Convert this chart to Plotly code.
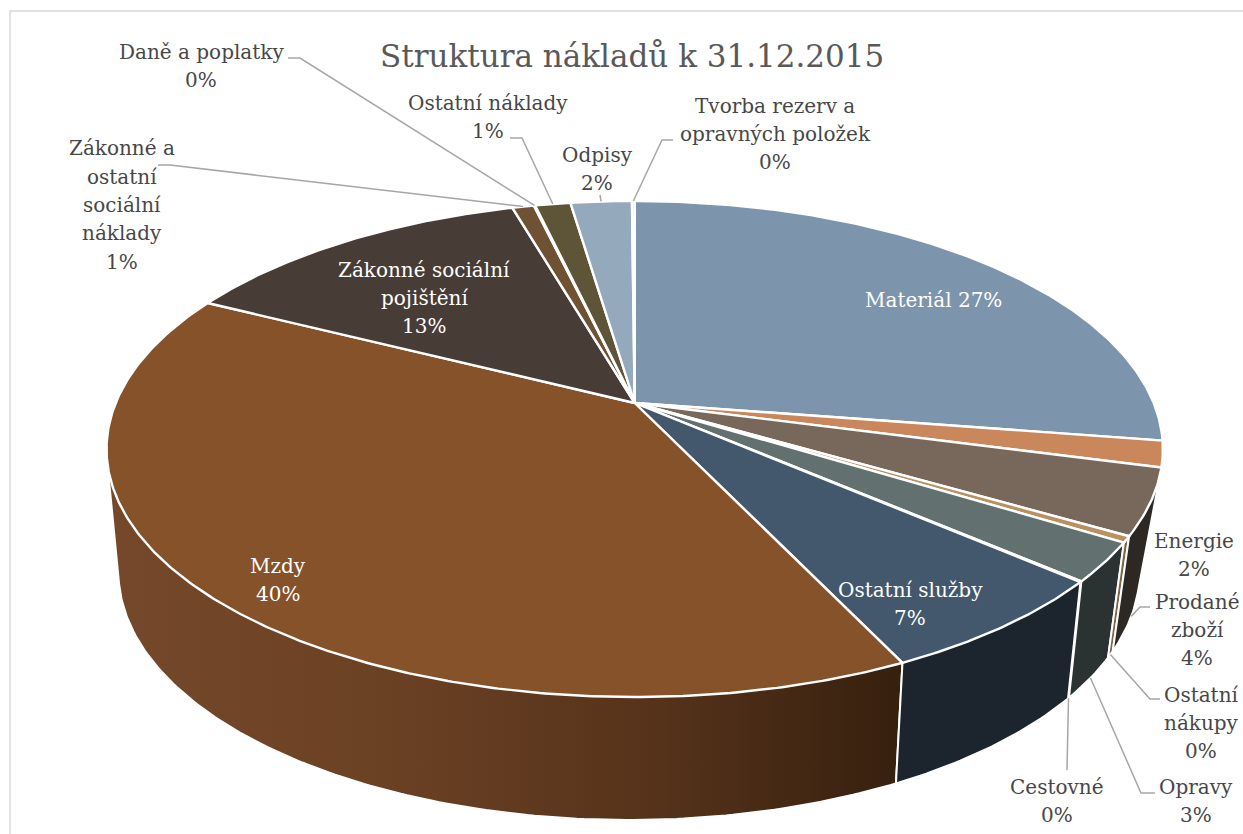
import math
import numpy as np
import plotly.graph_objects as go

# ---- data ----
categories = ["Materiál", "Energie", "Prodané zboží", "Ostatní nákupy", "Opravy", "Cestovné",
              "Ostatní služby", "Mzdy", "Zákonné sociální pojištění",
              "Zákonné a ostatní sociální náklady", "Daně a poplatky", "Ostatní náklady",
              "Odpisy", "Tvorba rezerv a opravných položek"]
values = [27.55, 1.7, 4.3, 0.4, 2.55, 0.05, 6.56, 39.7, 13.1, 0.8, 0.05, 1.3, 2.25, 0.1]
title_text = "Struktura nákladů k 31.12.2015"

# ---- styles ----
top_colors = ["#7c94ac", "#c9875b", "#78685c", "#b9905f", "#62706f", "#a5a5a5", "#43586c",
              "#85522a", "#483c36", "#6f5233", "#7a6a50", "#5e5538", "#95a9bc", "#c7d0da"]
wall_colors = {2: "#2e2824", 3: "#7f6443", 4: "#2a3331", 6: "#1c252d"}
MZDY_WALL = [[0, "#75482a"], [0.35, "#6b4124"], [0.7, "#55321a"], [1, "#36200e"]]

wrapped = ["Materiál", "Energie", "Prodané<br>zboží", "Ostatní<br>nákupy", "Opravy", "Cestovné",
           "Ostatní služby", "Mzdy", "Zákonné sociální<br>pojištění",
           "Zákonné a<br>ostatní<br>sociální<br>náklady", "Daně a poplatky", "Ostatní náklady",
           "Odpisy", "Tvorba rezerv a<br>opravných položek"]
sep = {0: " "}
label_pos = [(933, 300), (1194, 555), (1197, 630), (1201, 723), (1196, 801), (1057, 801), (910, 604),
             (278, 580), (424, 298), (122, 205), (201, 66), (488, 117), (597, 169), (775, 134)]
inside = {0, 6, 7, 8}
LINE_STEP = 28.4
leaders = {2: ("low", (1140, 607), (1150, 607)), 3: ("low", (1150, 699), (1160, 699)),
           4: ("low", (1141, 793), (1155, 793)), 5: ("low", (1067, 770), (1067, 770)),
           9: ("top", (170, 165), (158, 165)), 10: ("top", (300, 58), (288, 58)),
           11: ("top", (522, 138), (510, 138)), 12: ("top", (600, 195), (600, 195)),
           13: ("top", (662, 140), (673, 140))}

# ---- projection of the disc ----
def top_pt(t):
    k, c, d, ax, ay = 0.1855, 239.5, 519.0, 634.7, 403
    u, v = np.sin(t), np.cos(t)
    return ax + d * u / (1 + k * v), ay - c * v / (1 + k * v)

def low_pt(t):
    k, c, d, ax, ay = 0.22, 236, 498.0, 629, 517.4
    u, v = np.sin(t), np.cos(t)
    return ax + d * u / (1 + k * v), ay - c * v / (1 + k * v)

def hull(points):
    pts = sorted(set(points))
    def half(seq):
        out = []
        for p in seq:
            while len(out) > 1 and (out[-1][0]-out[-2][0])*(p[1]-out[-2][1]) - (out[-1][1]-out[-2][1])*(p[0]-out[-2][0]) <= 0:
                out.pop()
            out.append(p)
        return out[:-1]
    return half(pts) + half(pts[::-1])

total = sum(values)
edges = np.concatenate([[0], np.cumsum(values)]) / total * 2 * math.pi

fig = go.Figure()

# side walls (front-facing slices only)
for i in [7, 6, 4, 3, 2]:
    t = np.linspace(edges[i], edges[i + 1], max(4, int((edges[i + 1] - edges[i]) * 90)))
    tx, ty = top_pt(t)
    lx, ly = low_pt(t)
    h = hull(list(zip(tx.tolist(), ty.tolist())) + list(zip(lx.tolist(), ly.tolist())))
    xs = [p[0] for p in h] + [h[0][0]]
    ys = [p[1] for p in h] + [h[0][1]]
    kw = dict(fillcolor=wall_colors[i]) if i in wall_colors else dict(
        fillgradient=dict(type="horizontal", colorscale=MZDY_WALL))
    fig.add_trace(go.Scatter(x=xs, y=ys, mode="lines", fill="toself", hoverinfo="skip",
                             line=dict(color="white", width=2), showlegend=False, **kw))

# top faces
for i, name in enumerate(categories):
    t = np.linspace(edges[i], edges[i + 1], max(3, int((edges[i + 1] - edges[i]) * 120)))
    tx, ty = top_pt(t)
    xs = [634.7] + tx.tolist() + [634.7]
    ys = [403] + ty.tolist() + [403]
    fig.add_trace(go.Scatter(x=xs, y=ys, mode="lines", fill="toself", fillcolor=top_colors[i],
                             line=dict(color="white", width=2.4), name=name, hoverinfo="name",
                             showlegend=False))

# leader lines
for i, (rim, elbow, end) in leaders.items():
    mid = (edges[i] + edges[i + 1]) / 2
    px, py = (top_pt(mid) if rim == "top" else low_pt(mid))
    fig.add_trace(go.Scatter(x=[float(px), elbow[0], end[0]], y=[float(py), elbow[1], end[1]],
                             mode="lines", line=dict(color="#a6a6a6", width=1.5),
                             hoverinfo="skip", showlegend=False))

# labels: one annotation per text line, so the line spacing can follow the reference
annotations = []
for i, text in enumerate(wrapped):
    pct = f"{int(values[i] / total * 100 + 0.5)}%"
    lines = (text + sep.get(i, "<br>") + pct).split("<br>")
    y0 = label_pos[i][1] - LINE_STEP * (len(lines) - 1) / 2
    for j, line in enumerate(lines):
        annotations.append(dict(x=label_pos[i][0], y=y0 + j * LINE_STEP, xref="x", yref="y",
                                text=line, showarrow=False, align="center",
                                xanchor="center", yanchor="middle",
                                font=dict(family="DejaVu Serif", size=20,
                                          color="white" if i in inside else "#474747")))
annotations.append(dict(x=632, y=56, xref="x", yref="y", text=title_text, showarrow=False,
                        xanchor="center", yanchor="middle",
                        font=dict(family="DejaVu Serif", size=31, color="#595959")))

fig.update_layout(
    width=1243, height=834, margin=dict(l=0, r=0, t=0, b=0),
    paper_bgcolor="white", plot_bgcolor="white", showlegend=False,
    xaxis=dict(range=[0, 1243], visible=False, fixedrange=True),
    yaxis=dict(range=[834, 0], visible=False, fixedrange=True),
    annotations=annotations,
    shapes=[dict(type="rect", xref="x", yref="y", x0=10, y0=11, x1=1260, y1=860,
                 line=dict(color="#d9d9d9", width=1.5), layer="below")],
)
fig.write_html("out.html", config={"displayModeBar": False},
               post_script='document.body.style.margin="0";document.body.style.overflow="hidden";')
